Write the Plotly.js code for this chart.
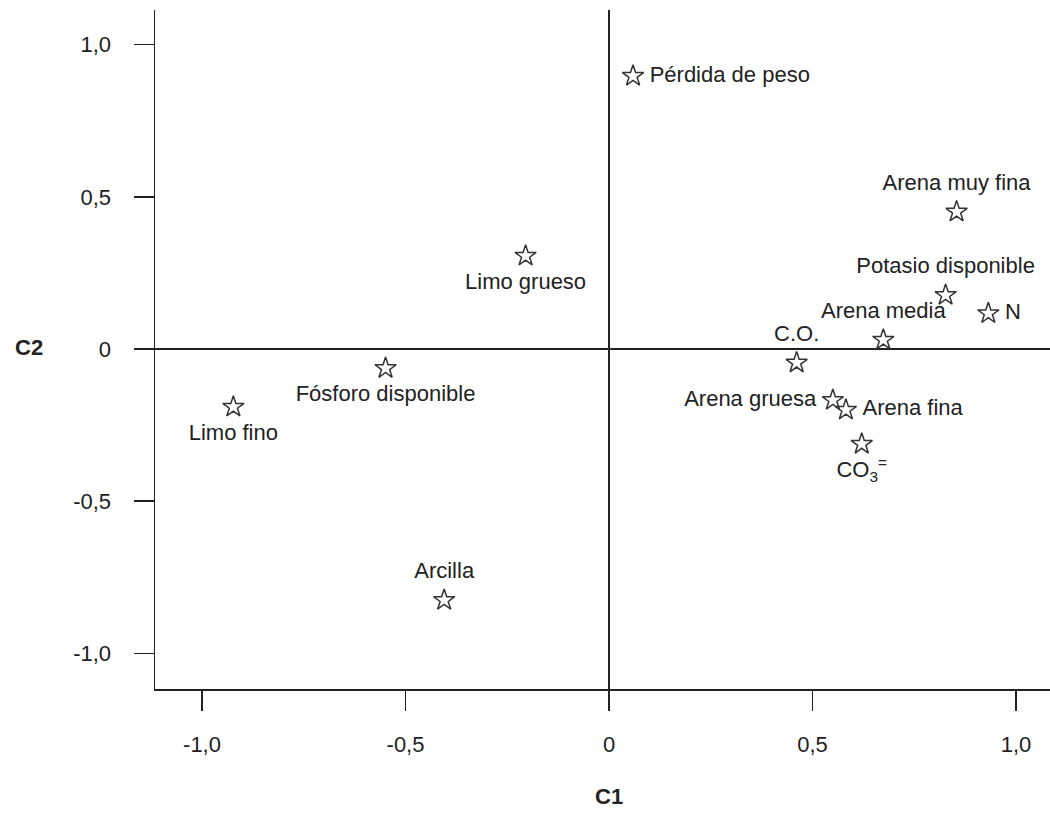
<!DOCTYPE html>
<html>
<head>
<meta charset="utf-8">
<script src="https://cdn.plot.ly/plotly-3.0.1.min.js"></script>
<style>
html,body{margin:0;padding:0;background:#fff;}
#chart{width:1050px;height:814px;}
</style>
</head>
<body>
<div id="chart"></div>
<script>
const labels = ["Pérdida de peso","Arena muy fina","Potasio disponible","N","Arena media","C.O.","Arena gruesa","Arena fina","CO<sub>3</sub><sup>=</sup>","Limo grueso","Fósforo disponible","Limo fino","Arcilla"];
const c1 = [0.059, 0.854, 0.827, 0.932, 0.674, 0.461, 0.550, 0.582, 0.621, -0.205, -0.549, -0.923, -0.405];
const c2 = [0.897, 0.451, 0.177, 0.117, 0.030, -0.045, -0.168, -0.200, -0.312, 0.306, -0.063, -0.190, -0.825];
const labelPos = ["middle right","top center","top center","middle right","top center","top center","middle left","middle right","bottom center","bottom center","bottom center","bottom center","top center"];
const tickVals = [-1, -0.5, 0, 0.5, 1];
const tickText = ["-1,0","-0,5","0","0,5","1,0"];

const font = "Liberation Sans, Arial, sans-serif";
const ink = "#222";

const stars = {
  type: "scatter",
  mode: "markers",
  x: c1,
  y: c2,
  marker: {symbol: "star-open", size: 16, color: "#333", line: {width: 1.5, color: "#333"}},
  hoverinfo: "skip",
  cliponaxis: false,
  showlegend: false
};

const names = {
  type: "scatter",
  mode: "markers+text",
  x: c1,
  y: c2,
  text: labels,
  textposition: labelPos,
  textfont: {family: font, size: 22, color: ink},
  marker: {size: 25, opacity: 0, color: "#fff"},
  hoverinfo: "skip",
  cliponaxis: false,
  showlegend: false
};

const axisCommon = {
  tickvals: tickVals,
  ticktext: tickText,
  ticks: "outside",
  ticklen: 20,
  tickwidth: 1.5,
  tickcolor: ink,
  showgrid: false,
  zeroline: true,
  zerolinecolor: ink,
  zerolinewidth: 1.5,
  showline: true,
  linecolor: ink,
  linewidth: 1.5,
  mirror: false,
  tickfont: {family: font, size: 22, color: ink},
  fixedrange: true
};

const layout = {
  width: 1050,
  height: 814,
  margin: {l: 155, r: 0, t: 10, b: 125},
  paper_bgcolor: "#fff",
  plot_bgcolor: "#fff",
  xaxis: Object.assign({}, axisCommon, {range: [-1.1155, 1.0835], ticklabelstandoff: 15}),
  yaxis: Object.assign({}, axisCommon, {range: [-1.117, 1.114], ticklabelstandoff: 18}),
  annotations: [
    {text: "<b>C1</b>", xref: "paper", yref: "paper", x: (609-155)/895, y: -(797-689)/679, xanchor: "center", yanchor: "middle", showarrow: false, font: {family: font, size: 22, color: ink}},
    {text: "<b>C2</b>", xref: "paper", yref: "paper", x: -(155-29)/895, y: (689-347)/679, xanchor: "center", yanchor: "middle", showarrow: false, font: {family: font, size: 22, color: ink}}
  ]
};

Plotly.newPlot("chart", [names, stars], layout, {staticPlot: true, displayModeBar: false});
</script>
</body>
</html>
